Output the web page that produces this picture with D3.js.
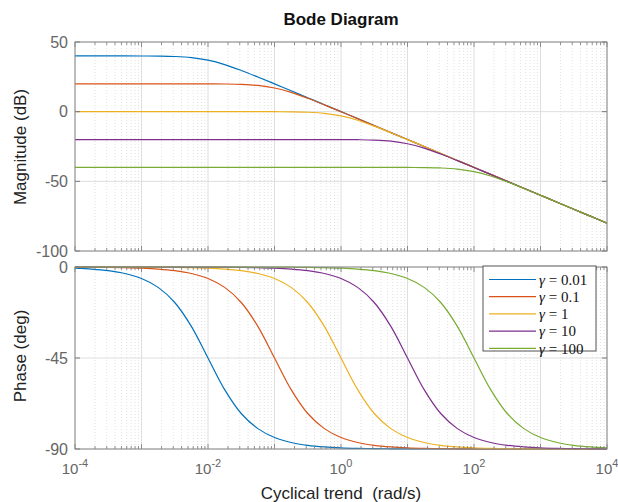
<!DOCTYPE html>
<html>
<head>
<meta charset="utf-8">
<script src="https://cdn.jsdelivr.net/npm/d3@7"></script>
<style>
  body { margin: 0; background: #fff; }
  svg { display: block; font-family: "Liberation Sans", Arial, sans-serif; }
</style>
</head>
<body>
<svg width="618" height="502"></svg>
<script>
// frequency grid (rad/s), quarter decades from 1e-4 to 1e4
const omega = [
  1e-4, 1.78e-4, 3.16e-4, 5.62e-4,
  1e-3, 1.78e-3, 3.16e-3, 5.62e-3,
  1e-2, 1.78e-2, 3.16e-2, 5.62e-2,
  0.1, 0.178, 0.316, 0.562,
  1, 1.78, 3.16, 5.62,
  10, 17.8, 31.6, 56.2,
  100, 178, 316, 562,
  1000, 1780, 3160, 5620,
  1e4
]

const gammaLabels = ["0.01", "0.1", "1", "10", "100"]
const colors = ["#0072BD", "#D95319", "#EDB120", "#7E2F8E", "#77AC30"]

// magnitude (dB)
const magG001 = [40, 40, 40, 40, 39.96, 39.87, 39.59, 38.81, 36.99, 33.81, 29.59, 24.87, 19.96, 14.99, 10, 5, 0,
  -5, -10, -15, -20, -25, -30, -35, -40, -45, -50, -55, -60, -65, -70, -75, -80]
const magG01 = [20, 20, 20, 20, 20, 20, 20, 19.99, 19.96, 19.87, 19.59, 18.81, 16.99, 13.81, 9.59, 4.87, -0.04,
  -5.01, -10, -15, -20, -25, -30, -35, -40, -45, -50, -55, -60, -65, -70, -75, -80]
const magG1 = [0, 0, 0, 0, 0, 0, 0, 0, 0, 0, 0, -0.01, -0.04, -0.13, -0.41, -1.19, -3.01,
  -6.19, -10.41, -15.13, -20.04, -25.01, -30, -35, -40, -45, -50, -55, -60, -65, -70, -75, -80]
const magG10 = [-20, -20, -20, -20, -20, -20, -20, -20, -20, -20, -20, -20, -20, -20, -20, -20.01, -20.04,
  -20.13, -20.41, -21.19, -23.01, -26.19, -30.41, -35.13, -40.04, -45.01, -50, -55, -60, -65, -70, -75, -80]
const magG100 = [-40, -40, -40, -40, -40, -40, -40, -40, -40, -40, -40, -40, -40, -40, -40, -40, -40,
  -40, -40, -40.01, -40.04, -40.13, -40.41, -41.19, -43.01, -46.19, -50.41, -55.13, -60.04, -65.01, -70, -75, -80]

// phase (deg)
const phG001 = [-0.57, -1.02, -1.81, -3.22, -5.71, -10.08, -17.55, -29.36, -45, -60.64, -72.45, -79.92, -84.29,
  -86.78, -88.19, -88.98, -89.43, -89.68, -89.82, -89.9, -89.94, -89.97, -89.98, -89.99, -89.99,
  -90, -90, -90, -90, -90, -90, -90, -90]
const phG01 = [-0.06, -0.1, -0.18, -0.32, -0.57, -1.02, -1.81, -3.22, -5.71, -10.08, -17.55, -29.36, -45,
  -60.64, -72.45, -79.92, -84.29, -86.78, -88.19, -88.98, -89.43, -89.68, -89.82, -89.9, -89.94,
  -89.97, -89.98, -89.99, -89.99, -90, -90, -90, -90]
const phG1 = [-0.01, -0.01, -0.02, -0.03, -0.06, -0.1, -0.18, -0.32, -0.57, -1.02, -1.81, -3.22, -5.71,
  -10.08, -17.55, -29.36, -45, -60.64, -72.45, -79.92, -84.29, -86.78, -88.19, -88.98, -89.43,
  -89.68, -89.82, -89.9, -89.94, -89.97, -89.98, -89.99, -89.99]
const phG10 = [0, 0, 0, 0, -0.01, -0.01, -0.02, -0.03, -0.06, -0.1, -0.18, -0.32, -0.57, -1.02, -1.81,
  -3.22, -5.71, -10.08, -17.55, -29.36, -45, -60.64, -72.45, -79.92, -84.29, -86.78, -88.19,
  -88.98, -89.43, -89.68, -89.82, -89.9, -89.94]
const phG100 = [0, 0, 0, 0, 0, 0, 0, 0, -0.01, -0.01, -0.02, -0.03, -0.06, -0.1, -0.18, -0.32, -0.57,
  -1.02, -1.81, -3.22, -5.71, -10.08, -17.55, -29.36, -45, -60.64, -72.45, -79.92, -84.29,
  -86.78, -88.19, -88.98, -89.43]

const magSeries = [magG001, magG01, magG1, magG10, magG100]
const phSeries = [phG001, phG01, phG1, phG10, phG100]

const magTicks = [50, 0, -50, -100]
const phTicks = [0, -45, -90]
const decades = [-4, -2, 0, 2, 4]

const svg = d3.select("svg")

// plot area
const left = 75, right = 607
const magTop = 42, magBottom = 251
const phTop = 267, phBottom = 449

const x = d3.scaleLog().domain([1e-4, 1e4]).range([left, right])
const yMag = d3.scaleLinear().domain([-100, 50]).range([magBottom, magTop])
const yPh = d3.scaleLinear().domain([-90, 0]).range([phBottom, phTop])

// every minor/major log position
const allTicks = []
for (let e = -4; e < 4; e++) {
  for (let m = 1; m < 10; m++) allTicks.push(m * Math.pow(10, e))
}
allTicks.push(1e4)
const isMajor = v => Math.abs(Math.log10(v) - Math.round(Math.log10(v))) <= 1e-6
const minorTicks = allTicks.filter(v => !isMajor(v))
const majorTicks = allTicks.filter(isMajor)

const drawPanel = function (y, top, bottom, yTicks, series, clipId) {
  const g = svg.append("g")

  // minor grid (dotted)
  g.selectAll("line.minor")
    .data(minorTicks)
    .enter()
    .append("line")
    .attr("x1", d => x(d)).attr("x2", d => x(d))
    .attr("y1", top).attr("y2", bottom)
    .attr("stroke", "#d9d9d9")
    .attr("stroke-width", 0.8)
    .attr("stroke-dasharray", "1,2")

  // major grid
  g.selectAll("line.majorx")
    .data(majorTicks)
    .enter()
    .append("line")
    .attr("x1", d => x(d)).attr("x2", d => x(d))
    .attr("y1", top).attr("y2", bottom)
    .attr("stroke", "#dedede")
    .attr("stroke-width", 1)

  g.selectAll("line.majory")
    .data(yTicks)
    .enter()
    .append("line")
    .attr("x1", left).attr("x2", right)
    .attr("y1", d => y(d)).attr("y2", d => y(d))
    .attr("stroke", "#dedede")
    .attr("stroke-width", 1)

  // curves
  svg.append("clipPath").attr("id", clipId)
    .append("rect").attr("x", left).attr("y", top - 1)
    .attr("width", right - left).attr("height", bottom - top + 2)

  const line = d3.line()
    .x((d, i) => x(omega[i]))
    .y(d => y(d))
    .curve(d3.curveCatmullRom.alpha(0.5))

  g.append("g").attr("clip-path", `url(#${clipId})`)
    .selectAll("path")
    .data(series)
    .enter()
    .append("path")
    .attr("d", d => line(d))
    .attr("fill", "none")
    .attr("stroke", (d, i) => colors[i])
    .attr("stroke-width", 1.2)

  // ticks inside the box, on all four sides
  const tickLen = v => isMajor(v) ? 5 : 3
  g.selectAll("line.tickTop")
    .data(allTicks)
    .enter()
    .append("line")
    .attr("x1", d => x(d)).attr("x2", d => x(d))
    .attr("y1", top).attr("y2", d => top + tickLen(d))
    .attr("stroke", "#777").attr("stroke-width", 0.8)
  g.selectAll("line.tickBottom")
    .data(allTicks)
    .enter()
    .append("line")
    .attr("x1", d => x(d)).attr("x2", d => x(d))
    .attr("y1", bottom).attr("y2", d => bottom - tickLen(d))
    .attr("stroke", "#777").attr("stroke-width", 0.8)
  g.selectAll("line.tickY")
    .data(yTicks)
    .enter()
    .append("line")
    .attr("x1", left).attr("x2", left + 5)
    .attr("y1", d => y(d)).attr("y2", d => y(d))
    .attr("stroke", "#777")
  g.selectAll("line.tickYR")
    .data(yTicks)
    .enter()
    .append("line")
    .attr("x1", right).attr("x2", right - 5)
    .attr("y1", d => y(d)).attr("y2", d => y(d))
    .attr("stroke", "#777")

  // box
  g.append("rect")
    .attr("x", left).attr("y", top)
    .attr("width", right - left).attr("height", bottom - top)
    .attr("fill", "none")
    .attr("stroke", "#8a8a8a")
    .attr("stroke-width", 1)

  // y tick labels
  g.selectAll("text.ytick")
    .data(yTicks)
    .enter()
    .append("text")
    .attr("x", left - 7)
    .attr("y", d => y(d))
    .attr("dy", "0.35em")
    .attr("text-anchor", "end")
    .attr("font-size", 16)
    .attr("fill", "#666")
    .text(d => d)
}

drawPanel(yMag, magTop, magBottom, magTicks, magSeries, "clipMag")
drawPanel(yPh, phTop, phBottom, phTicks, phSeries, "clipPh")

// x tick labels 10^n
const xLabels = svg.selectAll("text.xtick")
  .data(decades)
  .enter()
  .append("text")
  .attr("x", d => x(Math.pow(10, d)))
  .attr("y", 474)
  .attr("text-anchor", "middle")
  .attr("font-size", 15)
  .attr("fill", "#666")
xLabels.append("tspan").text("10")
xLabels.append("tspan")
  .attr("dy", -7)
  .attr("font-size", 11)
  .text(d => d < 0 ? "-" + Math.abs(d) : d)

// title and axis labels
svg.append("text")
  .attr("x", 341).attr("y", 25)
  .attr("text-anchor", "middle")
  .attr("font-size", 17)
  .attr("font-weight", "bold")
  .attr("fill", "#111")
  .text("Bode Diagram")

svg.append("text")
  .attr("x", 341).attr("y", 499)
  .attr("text-anchor", "middle")
  .attr("font-size", 17)
  .attr("fill", "#222")
  .attr("xml:space", "preserve")
  .text("Cyclical trend  (rad/s)")

svg.append("text")
  .attr("transform", "translate(26,147) rotate(-90)")
  .attr("text-anchor", "middle")
  .attr("font-size", 17)
  .attr("fill", "#222")
  .text("Magnitude (dB)")

svg.append("text")
  .attr("transform", "translate(26,356) rotate(-90)")
  .attr("text-anchor", "middle")
  .attr("font-size", 17)
  .attr("fill", "#222")
  .text("Phase (deg)")

// legend
const legend = svg.append("g").attr("transform", "translate(483,266)")
legend.append("rect")
  .attr("width", 113).attr("height", 85)
  .attr("fill", "#fff")
  .attr("stroke", "#555")
  .attr("stroke-width", 1)

const items = legend.selectAll("g.item")
  .data(gammaLabels)
  .enter()
  .append("g")
  .attr("transform", (d, i) => `translate(0,${13.5 + i * 17.2})`)

items.append("line")
  .attr("x1", 6).attr("x2", 53)
  .attr("stroke", (d, i) => colors[i])
  .attr("stroke-width", 1.2)

const itemText = items.append("text")
  .attr("x", 56)
  .attr("dy", "0.35em")
  .attr("font-family", "'Liberation Serif', 'DejaVu Serif', serif")
  .attr("font-size", 15)
  .attr("fill", "#111")
itemText.append("tspan").attr("font-style", "italic").text("γ")
itemText.append("tspan").attr("xml:space", "preserve").text(d => " = " + d)
</script>
</body>
</html>
